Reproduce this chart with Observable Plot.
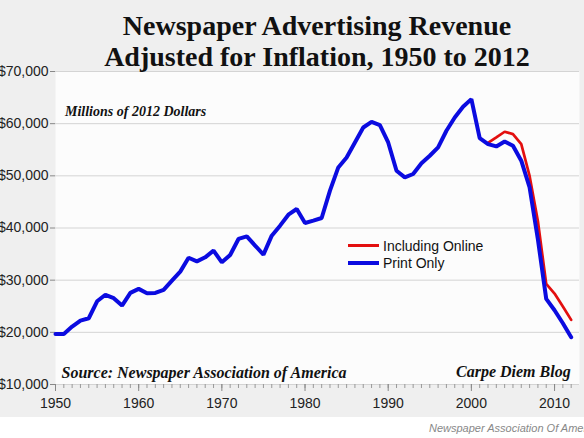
<!DOCTYPE html>
<html><head><meta charset="utf-8">
<script src="https://cdn.jsdelivr.net/npm/d3@7"></script>
<script src="https://cdn.jsdelivr.net/npm/@observablehq/plot@0.6"></script>
<style>
html,body{margin:0;padding:0;background:#fff;overflow:hidden}
#wrap{position:relative;width:584px;height:438px;overflow:hidden;background:#fff}
#band{position:absolute;left:0;top:0;width:584px;height:417px;background:#efefef}
#chart{position:absolute;left:0;top:0}
#over{position:absolute;left:0;top:0;pointer-events:none}
</style></head>
<body><div id="wrap"><div id="band"></div><div id="chart"></div><svg id="over" width="584" height="438"></svg></div>
<script>
const years = [1950,1951,1952,1953,1954,1955,1956,1957,1958,1959,1960,1961,1962,1963,1964,1965,1966,1967,1968,1969,
  1970,1971,1972,1973,1974,1975,1976,1977,1978,1979,1980,1981,1982,1983,1984,1985,1986,1987,1988,1989,
  1990,1991,1992,1993,1994,1995,1996,1997,1998,1999,2000,2001,2002,2003,2004,2005,2006,2007,2008,2009,
  2010,2011,2012];
const printOnly = [19700,19700,21100,22250,22700,25950,27200,26550,25130,27560,28330,27500,27560,28130,29900,31640,34300,33600,34380,35660,
  33420,34830,37900,38400,36620,34900,38530,40450,42550,43640,40960,41400,41920,47150,51610,53530,56400,59270,60360,59730,
  56400,50980,49700,50350,52400,53850,55450,58640,61190,63240,64700,57240,56090,55640,56590,55770,52900,47770,37800,26410,
  24230,21740,19060];
const onlineYears = [2002,2003,2004,2005,2006,2007,2008,2009,2010,2011,2012];
const includingOnline = [56300,57360,58450,58000,56090,49980,41300,29280,27430,24940,22390];
const yTicks = [10000,20000,30000,40000,50000,60000,70000];
const xTicks = [1950,1960,1970,1980,1990,2000,2010];
const seriesNames = ["Including Online","Print Only"];
const seriesColors = ["#e30f0f","#0b0be0"];

const printRows = years.map((year,i)=>({year, value: printOnly[i]}));
const onlineRows = onlineYears.map((year,i)=>({year, value: includingOnline[i]}));

const plot = Plot.plot({
  width:584, height:417, marginTop:71, marginBottom:33, marginLeft:55, marginRight:5,
  style:{background:"transparent", fontFamily:"'Liberation Sans', Arial, sans-serif", fontSize:"14px", color:"#222", overflow:"visible"},
  x:{domain:[1950,2013], label:null},
  y:{domain:[10000,70000], label:null},
  marks:[
    Plot.frame({fill:"#fcfcfc", stroke:"none"}),
    Plot.gridY(yTicks, {stroke:"#d4d4d4", strokeOpacity:1, strokeWidth:1}),
    Plot.axisY(yTicks, {tickSize:5, tickPadding:2, tickFormat:d3.format("$,"), stroke:"#888", fill:"#222", fontSize:14}),
    Plot.axisX(years, {tickSize:4, tickFormat:()=>"", stroke:"#999"}),
    Plot.axisX(xTicks, {tickSize:7, tickPadding:7, tickFormat:d=>String(d), stroke:"#888", fill:"#222", fontSize:14}),
    Plot.line(onlineRows, {x:"year", y:"value", stroke:seriesColors[0], strokeWidth:2.7, strokeLinejoin:"miter"}),
    Plot.line(printRows, {x:"year", y:"value", stroke:seriesColors[1], strokeWidth:4, strokeLinejoin:"miter"})
  ]
});
document.getElementById("chart").appendChild(plot);

const svg = d3.select("#over");
const serif = "'Liberation Serif', 'Times New Roman', serif";
const sans = "'Liberation Sans', Arial, sans-serif";
const title = svg.append("text").attr("text-anchor","middle").attr("font-family",serif).attr("font-weight","bold").attr("font-size",28).attr("fill","#111");
title.append("tspan").attr("x",317).attr("y",35).text("Newspaper Advertising Revenue");
title.append("tspan").attr("x",317).attr("y",66).text("Adjusted for Inflation, 1950 to 2012");

svg.append("text").attr("x",65).attr("y",116).attr("font-family",serif).attr("font-weight","bold").attr("font-style","italic").attr("font-size",14).attr("fill","#111").text("Millions of 2012 Dollars");
svg.append("text").attr("x",61.5).attr("y",378).attr("font-family",serif).attr("font-weight","bold").attr("font-style","italic").attr("font-size",16).attr("fill","#111").text("Source: Newspaper Association of America");
svg.append("text").attr("x",570.7).attr("y",377).attr("text-anchor","end").attr("font-family",serif).attr("font-weight","bold").attr("font-style","italic").attr("font-size",16).attr("fill","#111").text("Carpe Diem Blog");

const legY = [245.5, 263];
const legW = [3, 4];
seriesNames.forEach((name,i)=>{
  svg.append("line").attr("x1",348).attr("x2",379).attr("y1",legY[i]).attr("y2",legY[i]).attr("stroke",seriesColors[i]).attr("stroke-width",legW[i]);
  svg.append("text").attr("x",383).attr("y",legY[i]+5).attr("font-family",sans).attr("font-size",14).attr("fill","#111").text(name);
});

svg.append("text").attr("x",429).attr("y",432).attr("font-family",sans).attr("font-style","italic").attr("font-size",11).attr("fill","#888").text("Newspaper Association Of America");
</script>
</body></html>
